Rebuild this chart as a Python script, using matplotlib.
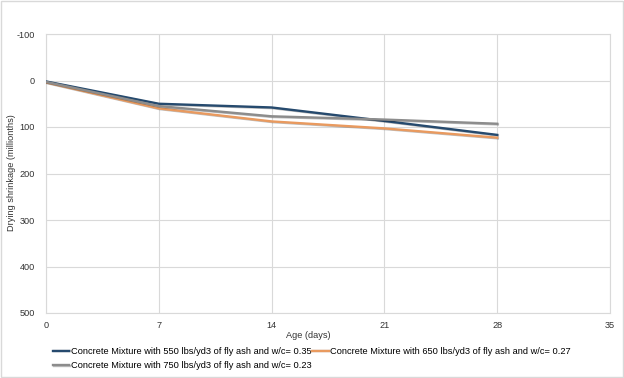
import numpy as np
import matplotlib.pyplot as plt
import matplotlib.patheffects as pe

plt.rcParams["font.family"] = ["Liberation Sans", "DejaVu Sans"]
plt.rcParams["axes.unicode_minus"] = False

# edad (dias) y retraccion por secado (millonesimas)
age = [0, 7, 14, 21, 28]
mix_550 = [2, 50, 58, 87, 117]
mix_650 = [4, 60, 88, 103, 123]
mix_750 = [3, 55, 77, 84, 93]

labels = [
    "Concrete Mixture with 550 lbs/yd3 of fly ash and w/c= 0.35",
    "Concrete Mixture with 650 lbs/yd3 of fly ash and w/c= 0.27",
    "Concrete Mixture with 750 lbs/yd3 of fly ash and w/c= 0.23",
]
colors = ["#264A6E", "#E99A5F", "#8C8C8C"]
txt = "#333333"

fig = plt.figure(figsize=(6.24, 3.78), dpi=100)
ax = fig.add_axes([46 / 624, 1 - 313 / 378, (610 - 46) / 624, (313 - 34) / 378])

shadow = [pe.SimpleLineShadow(offset=(0.5, -0.5), alpha=0.25), pe.Normal()]
lines = []
for y, c, lab in zip([mix_550, mix_650, mix_750], colors, labels):
    (l,) = ax.plot(age, y, color=c, lw=1.7, label=lab, path_effects=shadow, zorder=3)
    lines.append(l)

ax.set_xlim(0, 35)
ax.set_ylim(500, -100)
ax.set_xticks(np.arange(0, 36, 7))
ax.set_yticks(np.arange(-100, 501, 100))
ax.grid(True, color="#D9D9D9", lw=0.8)
for s in ax.spines.values():
    s.set_color("#D9D9D9")
    s.set_linewidth(0.8)
ax.tick_params(length=0, labelsize=6.6, colors=txt)
ax.tick_params(axis="x", pad=6)
ax.tick_params(axis="y", pad=8)

fig.text(308 / 624, 1 - 336 / 378, "Age (days)", fontsize=6.6, color=txt,
         ha="center", va="center")
fig.text(12 / 624, 1 - 173 / 378, "Drying shrinkage (millionths)", fontsize=6.6,
         color=txt, ha="center", va="center", rotation=90)

# orden por filas: 550, 650 / 750
fig.legend(
    handles=[lines[0], lines[2], lines[1]],
    labels=[labels[0], labels[2], labels[1]],
    loc="upper left",
    bbox_to_anchor=(53 / 624, 1 - 347 / 378),
    ncol=2,
    frameon=False,
    fontsize=6.7,
    handlelength=1.75,
    handletextpad=0.15,
    columnspacing=0.1,
    labelspacing=0.55,
    borderaxespad=0,
    borderpad=0,
)

fig.patches.append(
    plt.Rectangle((0.002, 0.002), 0.996, 0.995, transform=fig.transFigure,
                  fill=False, edgecolor="#D9D9D9", lw=1)
)

fig.savefig("out.png", dpi=100)
